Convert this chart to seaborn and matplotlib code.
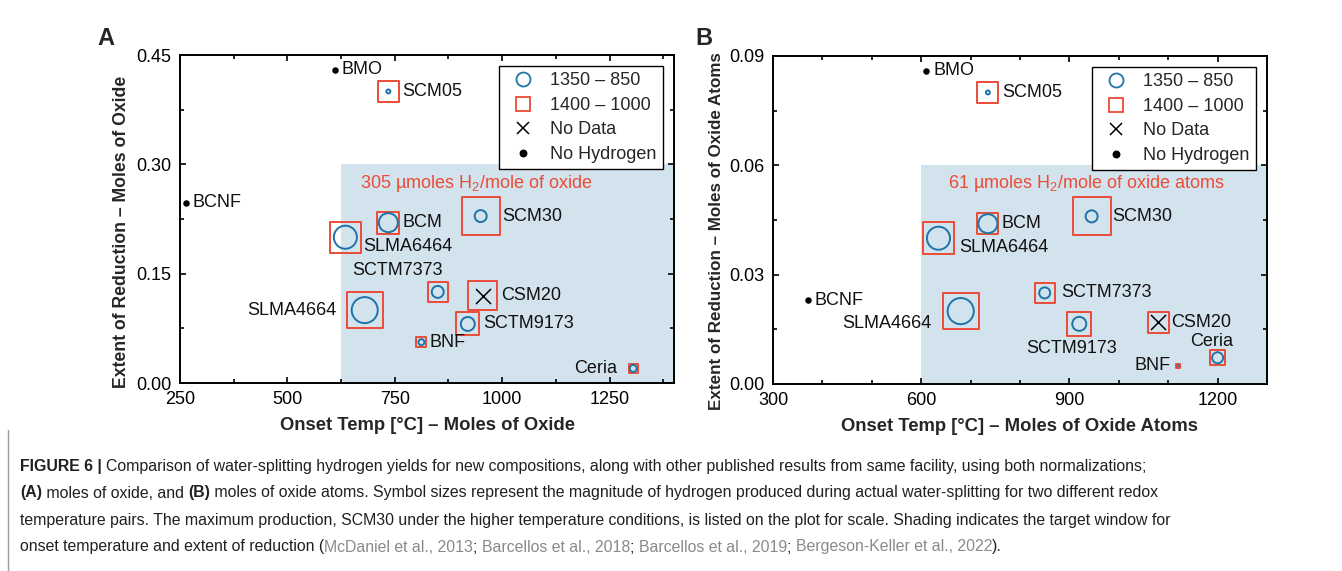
import numpy as np
import pandas as pd
import matplotlib
matplotlib.use("Agg")
import matplotlib.pyplot as plt
from matplotlib.lines import Line2D
from matplotlib.ticker import MultipleLocator, FormatStrFormatter
import seaborn as sns

# ---------------- data ----------------
names = ["BMO", "SCM05", "BCNF", "BCM", "SCM30", "SLMA6464", "SLMA4664",
         "SCTM7373", "CSM20", "SCTM9173", "BNF", "Ceria"]
nan = np.nan
# Panel A: moles of oxide
temp_A = [610, 735, 265, 735, 950, 635, 680, 850, 955, 920, 812, 1305]
extent_A = [0.430, 0.400, 0.247, 0.220, 0.229, 0.200, 0.100, 0.125, 0.120, 0.081, 0.056, 0.020]
h2_1350_A = [nan, 32, nan, 153, 96, 185, 209, 96, nan, 112, 48, 56]
h2_1400_A = [nan, 169, nan, 177, 305, 249, 289, 161, 233, 185, 80, 72]
# Panel B: moles of oxide atoms
temp_B = [610, 735, 370, 735, 945, 635, 680, 850, 1080, 920, 1120, 1200]
extent_B = [0.0860, 0.0800, 0.0230, 0.0440, 0.0460, 0.0400, 0.0200, 0.0250, 0.0170, 0.0165, 0.0050, 0.0072]
h2_1350_B = [nan, 6.4, nan, 30.5, 19.3, 37, 42, 17.7, nan, 22.5, 1.6, 17.7]
h2_1400_B = [nan, 33.7, nan, 33.7, 61, 51, 58, 32, 33.7, 38.5, 6.4, 24]
status = ["No Hydrogen", "ok", "No Hydrogen", "ok", "ok", "ok", "ok",
          "ok", "No Data", "ok", "ok", "ok"]

legend_labels = ["1350 – 850", "1400 – 1000", "No Data", "No Hydrogen"]
scale_text_A = "305 µmoles H$_2$/mole of oxide"
scale_text_B = "61 µmoles H$_2$/mole of oxide atoms"
window_A = (625, 0.30)   # target window: onset temp >= , extent <=
window_B = (600, 0.06)

# ---------------- style ----------------
sns.set_style("ticks")
plt.rcParams["font.family"] = ["Liberation Sans", "DejaVu Sans"]
plt.rcParams["mathtext.fontset"] = "custom"
plt.rcParams["mathtext.rm"] = "Liberation Sans"
plt.rcParams["mathtext.it"] = "Liberation Sans:italic"
plt.rcParams["mathtext.bf"] = "Liberation Sans:bold"

W, H = 1342, 571
BLUE = "#1c74a8"
RED = "#ec4b36"
SHADE = "#d3e3ee"
TXT = "#111111"
PX = 0.72  # points per pixel at dpi 100

fig = plt.figure(figsize=(W / 100, H / 100), dpi=100)
fig.patch.set_facecolor("white")
axA = fig.add_axes([180 / W, 1 - 383 / H, 494 / W, 328 / H])
axB = fig.add_axes([773 / W, 1 - 384 / H, 494 / W, 328 / H])

label_style_A = {
    "BMO": (7, 0, "left"), "SCM05": (14, 0, "left"), "BCNF": (6, 0, "left"),
    "BCM": (14, 0, "left"), "SCM30": (22, 0, "left"), "SLMA6464": (18, -9, "left"),
    "SLMA4664": (-28, 0, "right"), "SCTM7373": (-40, 21, "center"),
    "CSM20": (18, 0, "left"), "SCTM9173": (15, 0, "left"), "BNF": (8, 0, "left"),
    "Ceria": (-16, 0, "right"),
}
label_style_B = {
    "BMO": (7, 0, "left"), "SCM05": (14, 0, "left"), "BCNF": (7, 0, "left"),
    "BCM": (14, 0, "left"), "SCM30": (21, 0, "left"), "SLMA6464": (21, -9, "left"),
    "SLMA4664": (-29, -12, "right"), "SCTM7373": (17, 0, "left"),
    "CSM20": (13, 0, "left"), "SCTM9173": (-8, -25, "center"),
    "BNF": (-7, 0, "right"), "Ceria": (-6, 16, "center"),
}


def draw_panel(ax, temp, extent, h1350, h1400, xlim, ylim, xmajor, xminor,
               ymajor, yminor, window, scale_text, scale_pos, xlabel, ylabel,
               lstyle, ylab_size, ylab_pos, maxpx=38):
    df = pd.DataFrame({"name": names, "temp": temp, "extent": extent,
                       "h1350": h1350, "h1400": h1400, "status": status})
    hmax = np.nanmax(df["h1400"])
    ax.set_xlim(*xlim)
    ax.set_ylim(*ylim)
    ax.fill_between([window[0], xlim[1]], 0, window[1], color=SHADE, lw=0, zorder=0)

    # squares (1400-1000)
    sq = df.dropna(subset=["h1400"])
    sizes = ((sq["h1400"] / hmax * maxpx * PX) ** 2).values
    sns.scatterplot(data=sq, x="temp", y="extent", marker="s", s=sizes,
                    color=RED, ax=ax, legend=False, zorder=3)
    c = ax.collections[-1]
    c.set_facecolor("none"); c.set_edgecolor(RED); c.set_linewidth(1.4)

    # circles (1350-850)
    ci = df.dropna(subset=["h1350"])
    sizes = ((ci["h1350"] / hmax * maxpx * PX) ** 2).values
    sns.scatterplot(data=ci, x="temp", y="extent", marker="o", s=sizes,
                    color=BLUE, ax=ax, legend=False, zorder=4)
    c = ax.collections[-1]
    c.set_facecolor("none"); c.set_edgecolor(BLUE); c.set_linewidth(1.4)

    # no data
    nd = df[df["status"] == "No Data"]
    sns.scatterplot(data=nd, x="temp", y="extent", marker="x", s=(15 * PX) ** 2,
                    color="black", linewidth=1.1, ax=ax, legend=False, zorder=5)
    # no hydrogen
    nh = df[df["status"] == "No Hydrogen"]
    sns.scatterplot(data=nh, x="temp", y="extent", marker="o", s=(6.5 * PX) ** 2,
                    color="black", edgecolor="black", linewidth=0, ax=ax,
                    legend=False, zorder=5)

    for _, r in df.iterrows():
        dx, dy, ha = lstyle[r["name"]]
        ax.annotate(r["name"], (r["temp"], r["extent"]), xytext=(dx, dy),
                    textcoords="offset pixels", ha=ha, va="center",
                    fontsize=13, color=TXT, zorder=6)

    ax.text(scale_pos[0], scale_pos[1], scale_text, transform=ax.transAxes,
            color=RED, fontsize=13, ha="left", va="center", zorder=6)

    ax.xaxis.set_major_locator(MultipleLocator(xmajor))
    ax.xaxis.set_minor_locator(MultipleLocator(xminor))
    ax.yaxis.set_major_locator(MultipleLocator(ymajor))
    ax.yaxis.set_minor_locator(MultipleLocator(yminor))
    ax.yaxis.set_major_formatter(FormatStrFormatter("%.2f"))
    ax.tick_params(which="both", direction="in", top=True, right=True,
                   width=1.2, colors="black", labelsize=13)
    ax.tick_params(which="major", length=4.5, pad=6)
    ax.tick_params(which="minor", length=2.8)
    for s in ax.spines.values():
        s.set_visible(True)
        s.set_linewidth(1.4)
        s.set_color("black")
    ax.set_xlabel(xlabel, fontsize=13.3, fontweight="bold", labelpad=6)
    ax.set_ylabel(ylabel, fontsize=ylab_size, fontweight="bold")
    ax.yaxis.set_label_coords(*ylab_pos)
    ax.grid(False)

    handles = [
        Line2D([], [], ls="", marker="o", ms=14 * PX, mfc="none", mec=BLUE, mew=1.3),
        Line2D([], [], ls="", marker="s", ms=14 * PX, mfc="none", mec=RED, mew=1.3),
        Line2D([], [], ls="", marker="x", ms=12 * PX, color="black", mew=1.1),
        Line2D([], [], ls="", marker="o", ms=6.5 * PX, color="black"),
    ]
    leg = ax.legend(handles, legend_labels, loc="upper right",
                    bbox_to_anchor=(1 - 11 / 494, 1 - 11 / 328),
                    borderaxespad=0, fontsize=13, frameon=True, fancybox=False,
                    edgecolor="black", framealpha=1, handlelength=2.05,
                    handletextpad=0.46, labelspacing=0.42, borderpad=0.35)
    leg.get_frame().set_linewidth(1.0)
    leg.set_zorder(7)


draw_panel(axA, temp_A, extent_A, h2_1350_A, h2_1400_A, (250, 1400), (0, 0.45),
           250, 125, 0.15, 0.075, window_A, scale_text_A, (0.364, 0.607),
           "Onset Temp [°C] – Moles of Oxide", "Extent of Reduction – Moles of Oxide",
           label_style_A, 12.7, (-0.101, 0.46))
draw_panel(axB, temp_B, extent_B, h2_1350_B, h2_1400_B, (300, 1300), (0, 0.09),
           300, 100, 0.03, 0.015, window_B, scale_text_B, (0.354, 0.61),
           "Onset Temp [°C] – Moles of Oxide Atoms",
           "Extent of Reduction – Moles of Oxide Atoms", label_style_B,
           12.25, (-0.099, 0.466))

fig.text(97 / W, 1 - 45 / H, "A", fontsize=17, fontweight="bold", va="baseline")
fig.text(695 / W, 1 - 45 / H, "B", fontsize=17, fontweight="bold", va="baseline")

# ---------------- caption ----------------
CAP = "#231f20"
GRAY = "#8a8a8a"
caption_lines = [
    [("FIGURE 6 | ", "bold", CAP),
     ("Comparison of water-splitting hydrogen yields for new compositions, along with other published results from same facility, using both normalizations;", "normal", CAP)],
    [("(A)", "bold", CAP), (" moles of oxide, and ", "normal", CAP), ("(B)", "bold", CAP),
     (" moles of oxide atoms. Symbol sizes represent the magnitude of hydrogen produced during actual water-splitting for two different redox", "normal", CAP)],
    [("temperature pairs. The maximum production, SCM30 under the higher temperature conditions, is listed on the plot for scale. Shading indicates the target window for", "normal", CAP)],
    [("onset temperature and extent of reduction (", "normal", CAP),
     ("McDaniel et al., 2013", "normal", GRAY), ("; ", "normal", CAP),
     ("Barcellos et al., 2018", "normal", GRAY), ("; ", "normal", CAP),
     ("Barcellos et al., 2019", "normal", GRAY), ("; ", "normal", CAP),
     ("Bergeson-Keller et al., 2022", "normal", GRAY), (").", "normal", CAP)],
]
renderer = fig.canvas.get_renderer()


def seg_width(txt, weight, size):
    t1 = fig.text(0, 0, "x" + txt + "x", fontsize=size, fontweight=weight)
    t2 = fig.text(0, 0, "xx", fontsize=size, fontweight=weight)
    w = t1.get_window_extent(renderer).width - t2.get_window_extent(renderer).width
    t1.remove(); t2.remove()
    return w


# choose font size so the caption lines span about the reference widths
base = 10.0
w2 = sum(seg_width(s, wt, base) for s, wt, _ in caption_lines[1])
w3 = sum(seg_width(s, wt, base) for s, wt, _ in caption_lines[2])
cap_size = base * 0.5 * (1148 / w2 + 1147 / w3)

for line, ypx in zip(caption_lines, [466, 493, 520, 547]):
    x = 20.0
    for txt, wt, col in line:
        fig.text(x / W, 1 - ypx / H, txt, fontsize=cap_size, fontweight=wt,
                 color=col, va="center", ha="left")
        x += seg_width(txt, wt, cap_size)

fig.add_artist(Line2D([7.5 / W, 7.5 / W], [0, 1 - 430 / H], color="#9a9a9a", lw=1,
                      transform=fig.transFigure))

fig.savefig("out.png", dpi=100, facecolor="white")
